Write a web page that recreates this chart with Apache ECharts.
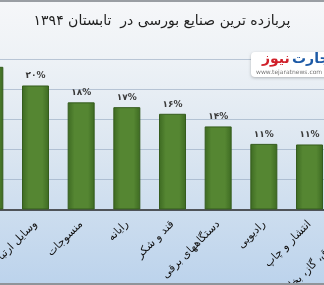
<!DOCTYPE html>
<html><head><meta charset="utf-8">
<script src="https://cdn.jsdelivr.net/npm/echarts@6/dist/echarts.min.js"></script>
<style>
html,body{margin:0;padding:0;overflow:hidden;}
#wrap{position:relative;width:324px;height:285px;overflow:hidden;
background:linear-gradient(to bottom,#f6f7f9 0%,#eef2f6 20%,#dde7f1 50%,#c9dbee 80%,#bcd3ec 100%);}
#c{position:absolute;left:-33px;top:0;width:411px;height:285px;}
#bt{position:absolute;left:0;top:0;width:324px;height:2px;background:#9a9ea3;z-index:5;}
#bb{position:absolute;left:0;bottom:0;width:324px;height:2px;background:#8f949a;z-index:5;}
</style></head>
<body><div id="wrap"><div id="c"></div><div id="bt"></div><div id="bb"></div></div>
<script>
const titleText = 'پربازده ترین صنایع بورسی در  تابستان ۱۳۹۴';
const categories = ['خودرو','وسایل ارتباطی','منسوجات','رایانه','قند و شکر','دستگاههای برقی','رادیویی','انتشار و چاپ','عرضه برق، گاز، بخار و آب گرم'];
const values = [23.7, 20.6, 17.8, 17.0, 15.9, 13.8, 10.9, 10.8, 10.0];
const valueLabels = ['۲۴%','۲۰%','۱۸%','۱۷%','۱۶%','۱۴%','۱۱%','۱۱%','۱۰%'];

const OX = 33; // horizontal offset of the visible window inside the chart canvas
const chart = echarts.init(document.getElementById('c'), null, {renderer:'canvas'});
chart.setOption({
  backgroundColor:'transparent',
  animation:false,
  grid:{left:0,right:0,top:59,bottom:75.5,containLabel:false,outerBoundsMode:'none'},
  xAxis:{type:'category',data:categories,boundaryGap:true,
    axisTick:{show:false},
    axisLine:{lineStyle:{color:'#4f5358',width:2}},
    axisLabel:{rotate:45,interval:0,margin:13,fontFamily:'DejaVu Sans',fontSize:11,color:'#111'}},
  yAxis:{type:'value',min:0,max:25,interval:5,
    axisLabel:{show:false},axisLine:{show:false},axisTick:{show:false},
    splitLine:{lineStyle:{color:'rgba(140,160,185,0.55)',width:1}}},
  series:[{type:'bar',data:values,barWidth:27,
    itemStyle:{color:{type:'linear',x:0,y:0,x2:1,y2:0,colorStops:[
      {offset:0,color:'#3d6a22'},{offset:0.25,color:'#558632'},{offset:0.75,color:'#558632'},{offset:1,color:'#3d6a22'}]},
      borderColor:'#355c1d',borderWidth:1},
    label:{show:true,position:'top',distance:5,
      formatter:p=>valueLabels[p.dataIndex],
      fontFamily:'DejaVu Sans',fontSize:9,fontWeight:'bold',color:'#3a3a3a'}}],
  graphic:[
    {type:'text',x:OX+162,y:14,style:{text:titleText,align:'center',verticalAlign:'top',fontFamily:'DejaVu Sans',fontSize:14,fill:'#1e1e1e'},z:11},
    {type:'rect',left:OX+251,top:52,shape:{width:90,height:25,r:4},
      style:{fill:'#ffffff',shadowBlur:3,shadowColor:'rgba(0,0,0,0.25)',shadowOffsetY:1},z:10},
    {type:'text',left:OX+262,top:52,style:{text:'نیوز',fontFamily:'DejaVu Sans',fontSize:14,fontWeight:'bold',fill:'#d0202a'},z:11},
    {type:'text',left:OX+292,top:52,style:{text:'تجارت',fontFamily:'DejaVu Sans',fontSize:14,fontWeight:'bold',fill:'#1d5aa6'},z:11},
    {type:'text',left:OX+256,top:69,style:{text:'www.tejaratnews.com',fontFamily:'DejaVu Sans',fontSize:6,fill:'#777'},z:11}
  ]
});
</script></body></html>
